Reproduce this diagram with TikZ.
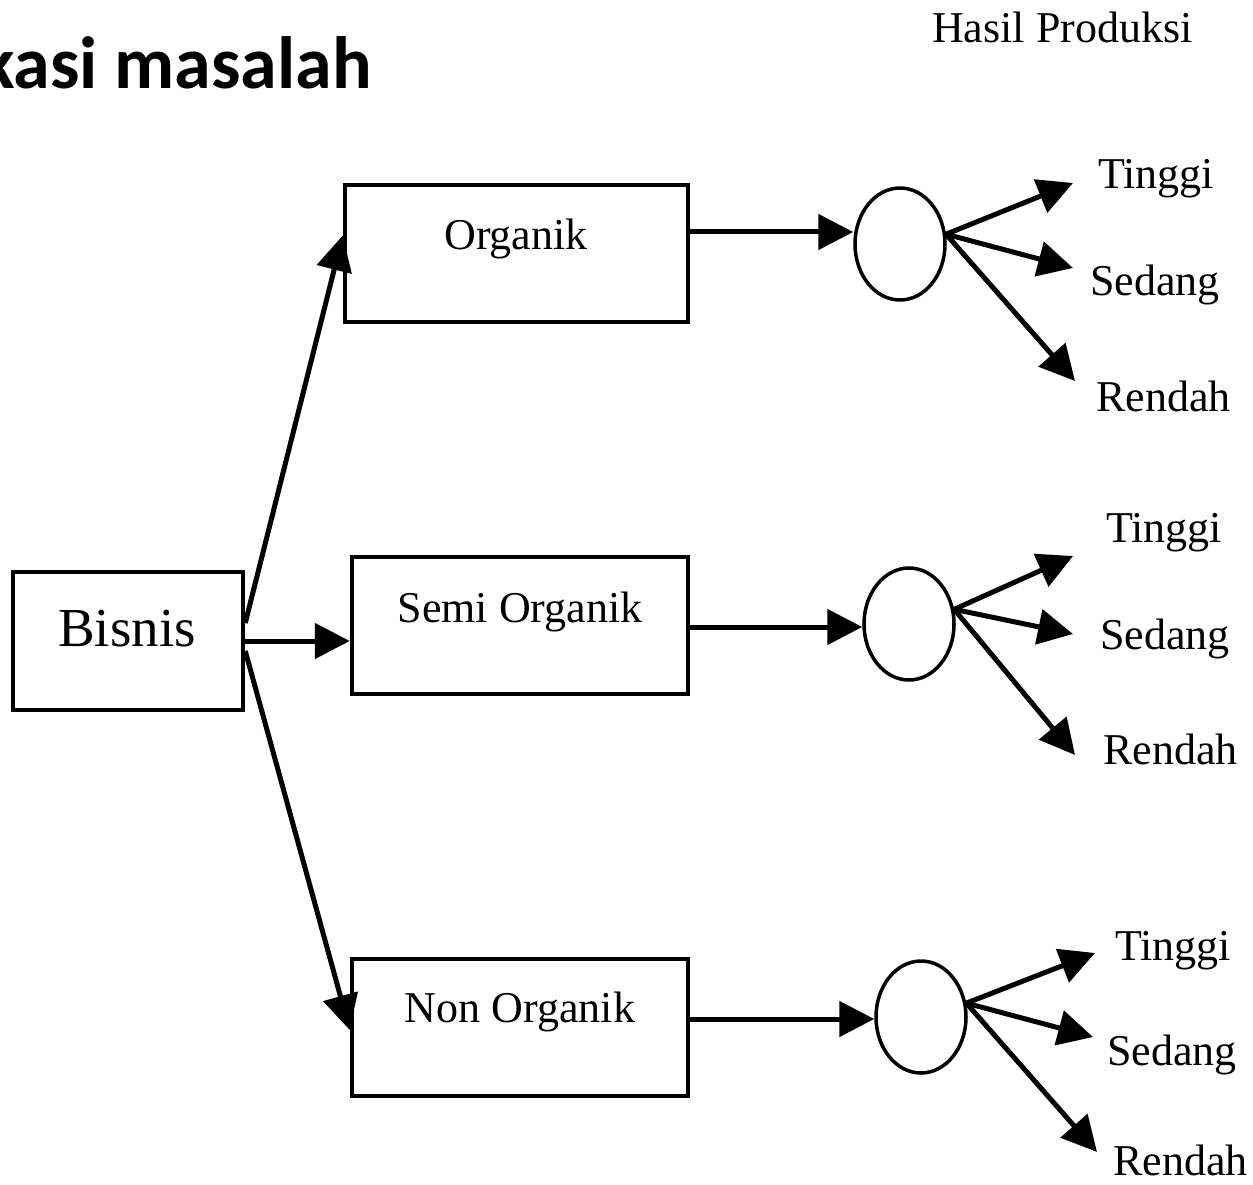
\documentclass[tikz,border=0pt]{standalone}
\usepackage{fontspec}
\setmainfont{Liberation Serif}
\newfontfamily\headfont{Carlito}
\usetikzlibrary{arrows.meta,shapes.geometric}
\begin{document}
\begin{tikzpicture}[x=1pt,y=-1pt,
  box/.style={draw, line width=4.5pt, rectangle, inner sep=0pt},
  lbl/.style={font=\fontsize{44}{50}\selectfont, inner sep=0pt},
  chance/.style={draw, ellipse, line width=3.5pt, inner sep=0pt,
                 minimum width=90pt, minimum height=112pt},
  arr/.style={line width=5pt, -{Triangle[length=35pt,width=35pt]}}
]
\useasboundingbox (0,0) rectangle (1253,1185);

% heading (partly outside the page on the left)
\node[font=\headfont\bfseries\fontsize{74}{84}\selectfont, anchor=base east, inner sep=0pt]
  (title) at (372,89) {kasi masalah};
\node[lbl, anchor=base west] (hasil) at (932,43) {Hasil Produksi};

% root box
\node[box, minimum width=230pt, minimum height=138pt] (bisnis) at (128,641) {};
\node[font=\fontsize{55}{60}\selectfont, inner sep=0pt, anchor=base] (bisnist) at (127,646) {Bisnis};

% alternative boxes
\node[box, minimum width=343pt, minimum height=137pt] (org) at (516.5,253.5) {};
\node[lbl, anchor=base] (orgt) at (516,249) {Organik};
\node[box, minimum width=336pt, minimum height=137pt] (semi) at (520,625.5) {};
\node[lbl, anchor=base] (semit) at (520,622) {Semi Organik};
\node[box, minimum width=336pt, minimum height=137pt] (non) at (520,1027.5) {};
\node[lbl, anchor=base] (nont) at (520,1022) {Non Organik};

% chance nodes
\node[chance] (e1) at (900,244) {};
\node[chance] (e2) at (909,624) {};
\node[chance] (e3) at (921,1017) {};

% outcome labels
\node[lbl, anchor=base west] (t1) at (1098,189) {Tinggi};
\node[lbl, anchor=base west] (s1) at (1090,295) {Sedang};
\node[lbl, anchor=base west] (r1) at (1096,411) {Rendah};
\node[lbl, anchor=base west] (t2) at (1106,542) {Tinggi};
\node[lbl, anchor=base west] (s2) at (1100,649) {Sedang};
\node[lbl, anchor=base west] (r2) at (1103,764) {Rendah};
\node[lbl, anchor=base west] (t3) at (1115,960) {Tinggi};
\node[lbl, anchor=base west] (s3) at (1107,1065) {Sedang};
\node[lbl, anchor=base west] (r3) at (1113,1175) {Rendah};

% arrow tips of the outcome branches
\coordinate (t1tip) at (1073,183);
\coordinate (s1tip) at (1073,268);
\coordinate (r1tip) at (1075,381);
\coordinate (t2tip) at (1073,556);
\coordinate (s2tip) at (1073,634);
\coordinate (r2tip) at (1075,755);
\coordinate (t3tip) at (1095,953);
\coordinate (s3tip) at (1093,1037);
\coordinate (r3tip) at (1097,1152);

% root to alternatives
\draw[arr] ([yshift=18pt]bisnis.east) -- ([yshift=18pt]org.west);
\draw[arr] (bisnis.east) -- (bisnis.east -| semi.west);
\draw[arr] ([yshift=-10pt]bisnis.east) -- ([yshift=-2.5pt]non.west);

% alternatives to chance nodes
\draw[arr] ([yshift=21.5pt]org.east) -- ([yshift=12pt]e1.west);
\draw[arr] ([yshift=-1.5pt]semi.east) -- ([yshift=-3pt]e2.west);
\draw[arr] ([yshift=8.5pt]non.east) -- ([yshift=-2pt]e3.west);

% chance nodes to outcomes
\foreach \e/\a/\k in {e1/12/1, e2/18/2, e3/17/3} {
  \draw[arr] (\e.\a) -- (t\k tip);
  \draw[arr] (\e.\a) -- (s\k tip);
  \draw[arr] (\e.\a) -- (r\k tip);
}
\end{tikzpicture}
\end{document}
